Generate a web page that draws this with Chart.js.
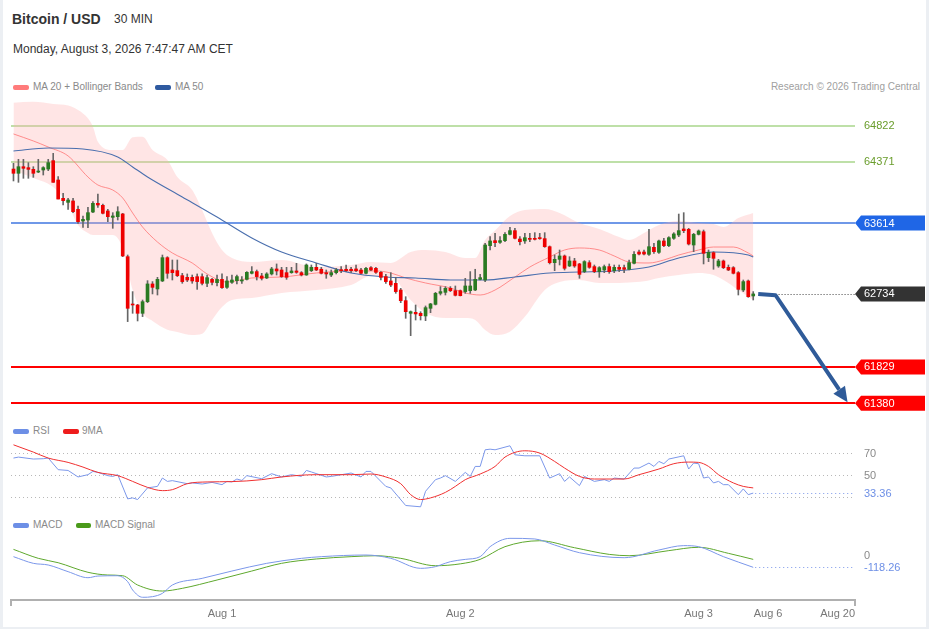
<!DOCTYPE html>
<html>
<head>
<meta charset="utf-8">
<script src="https://cdn.jsdelivr.net/npm/chart.js@4.4.1/dist/chart.umd.min.js"></script>
<style>
html,body{margin:0;padding:0;}
body{width:929px;height:629px;background:#eceff3;position:relative;overflow:hidden;font-family:"Liberation Sans",Arial,sans-serif;}
#frame{position:absolute;left:3px;top:0;width:923px;height:627px;background:#fff;}
.t{position:absolute;white-space:nowrap;color:#333;line-height:normal;}
.lg{position:absolute;white-space:nowrap;color:#8a8a8a;font-size:10px;line-height:normal;}
.sw{position:absolute;height:5px;border-radius:2px;}
.cv{position:absolute;left:0;width:929px;}
</style>
</head>
<body>
<div id="frame"></div>
<div class="t" style="left:12px;top:11px;font-size:14px;font-weight:bold;">Bitcoin / USD</div>
<div class="t" style="left:114px;top:12px;font-size:12px;">30 MIN</div>
<div class="t" style="left:13px;top:42px;font-size:12px;">Monday, August 3, 2026 7:47:47 AM CET</div>

<div class="sw" style="left:13px;top:85px;width:16px;background:#ff7b7b;"></div>
<div class="lg" style="left:33px;top:81px;">MA 20 + Bollinger Bands</div>
<div class="sw" style="left:155px;top:85px;width:16px;background:#2f5aa0;"></div>
<div class="lg" style="left:175px;top:81px;">MA 50</div>
<div class="lg" style="right:9px;top:81px;color:#a0a0a0;">Research © 2026 Trading Central</div>

<div class="sw" style="left:13px;top:429px;width:16px;background:#6d8fe6;"></div>
<div class="lg" style="left:33px;top:425px;">RSI</div>
<div class="sw" style="left:63px;top:429px;width:16px;background:#ee1c1c;"></div>
<div class="lg" style="left:82px;top:425px;">9MA</div>

<div class="sw" style="left:13px;top:523px;width:16px;background:#6d8fe6;"></div>
<div class="lg" style="left:33px;top:519px;">MACD</div>
<div class="sw" style="left:76px;top:523px;width:15px;background:#4a9a1a;"></div>
<div class="lg" style="left:95px;top:519px;">MACD Signal</div>

<div class="cv" style="top:95px;height:325px;"><canvas id="cMain"></canvas></div>
<div class="cv" style="top:437px;height:76px;"><canvas id="cRsi"></canvas></div>
<div class="cv" style="top:530px;height:99px;"><canvas id="cMacd"></canvas></div>

<script>
// ---------------- DATA ----------------
const xTickPos = [42, 90, 138, 152, 166];
const xTickLabels = ['Aug 1', 'Aug 2', 'Aug 3', 'Aug 6', 'Aug 20'];
const futureSlots = 20;

const opens = [64283,64230,64312,64300,64279,64246,64271,64283,64387,64147,
63920,63870,63887,63783,63639,63651,63750,63858,63833,63763,
63684,63692,63726,63196,62605,62597,62494,62638,62858,62796,
62895,63184,63031,63023,62961,62940,62940,62948,62948,62866,
62915,62874,62915,62816,62878,62899,62895,62915,62990,63011,
62957,62932,62982,63044,63031,62998,62998,63019,62998,62969,
63023,63064,63040,62998,62969,62998,63031,63040,63040,63044,
63031,62990,63060,63052,63002,62949,62895,62866,62783,62651,
62494,62506,62494,62461,62556,62605,62742,62754,62804,62775,
62775,62763,62775,62783,62915,62907,63333,63395,63374,63395,
63473,63519,63415,63391,63424,63424,63432,63420,63320,63122,
63163,63205,63081,63143,63106,63011,63122,63073,63011,63031,
63073,63023,63064,63060,63040,63114,63254,63254,63225,63312,
63250,63391,63333,63424,63465,63540,63535,63341,63473,63506,
63184,63246,63081,63143,63064,63060,62998,62783,62895,62709];

const highs = [64354,64403,64403,64362,64312,64403,64312,64403,64478,64188,
63982,63920,63920,63825,63701,63808,63878,63973,63849,63783,
63742,63816,63734,63217,62763,62605,62659,62899,62887,62940,
63217,63196,63155,63155,62990,62982,62969,62982,62982,62969,
62928,62969,62982,62949,62969,62969,62949,63011,63073,63031,
62990,62998,63064,63106,63064,63064,63064,63114,63011,63106,
63093,63114,63064,63031,63031,63052,63073,63093,63064,63093,
63052,63064,63073,63064,63011,62978,62998,62940,62804,62700,
62523,62597,62514,62585,62618,62754,62825,62825,62825,62833,
62783,62928,63011,63040,62978,63362,63444,63486,63444,63494,
63560,63548,63444,63486,63486,63494,63486,63494,63329,63217,
63279,63217,63196,63176,63114,63147,63147,63093,63073,63093,
63106,63093,63093,63093,63155,63258,63279,63279,63535,63362,
63403,63424,63444,63494,63725,63742,63548,63486,63527,63527,
63279,63258,63163,63155,63093,63073,63011,62907,62907,62763];

const lows = [64135,64118,64168,64168,64180,64238,64209,64263,64118,63911,
63837,63783,63742,63610,63560,63556,63742,63808,63725,63630,
63548,63651,63196,62391,62494,62399,62453,62626,62734,62721,
62887,62928,62907,62949,62866,62887,62866,62791,62845,62825,
62845,62833,62804,62804,62866,62858,62866,62907,62982,62907,
62907,62924,62969,62969,62940,62915,62990,62990,62957,62965,
63011,63023,62982,62928,62949,62982,62998,63011,62998,63011,
62982,62982,63023,62990,62907,62866,62825,62742,62626,62432,
62217,62411,62411,62403,62502,62597,62721,62721,62763,62709,
62709,62742,62742,62775,62907,62887,63279,63320,63362,63382,
63465,63415,63341,63362,63382,63403,63411,63312,63106,63023,
63093,63031,63073,63064,62928,62998,63052,62998,62940,62998,
62990,62998,63011,62998,63031,63106,63217,63217,63213,63238,
63238,63320,63320,63411,63444,63494,63341,63258,63465,63106,
63135,63040,63064,63048,63023,62982,62721,62763,62692,62659];

const closes = [64230,64312,64292,64279,64230,64258,64300,64362,64118,63911,
63891,63899,63754,63630,63659,63742,63858,63837,63734,63692,
63701,63754,63205,62556,62597,62494,62638,62858,62816,62915,
63184,62990,62998,62961,62887,62907,62895,62887,62866,62936,
62878,62915,62812,62895,62907,62949,62907,63002,63011,62949,
62928,62982,63044,63019,62949,62940,63019,63002,62969,63093,
63064,63031,62990,62982,62998,63031,63023,63023,63023,63023,
62990,63052,63031,63002,62940,62887,62845,62763,62651,62514,
62514,62486,62465,62564,62610,62742,62763,62804,62775,62717,
62713,62833,62833,62915,62936,63341,63391,63370,63395,63473,
63519,63424,63382,63432,63411,63411,63420,63320,63122,63163,
63205,63052,63143,63081,62977,63135,63064,63011,63060,63073,
63011,63064,63040,63040,63122,63225,63229,63229,63320,63258,
63391,63333,63432,63478,63519,63519,63353,63473,63515,63238,
63250,63176,63143,63060,63031,62990,62791,62887,62700,62734];

const ma20X = [0,4,7,11,15,17,20,22,24,26,29,32,36,39,43,48,54,61,68,73,76,79,83,88,91,94,97,101,104,108,111,114,118,121,124,128,131,134,138,141,145,148,149];
const ma20Y = [64718,64631,64556,64445,64184,64085,64023,63924,63738,63564,63378,63242,63118,62982,62882,62932,62944,62994,63019,63019,62994,62932,62870,62808,62746,62721,62783,62944,63068,63192,63279,63304,63279,63205,63130,63118,63155,63217,63279,63316,63316,63242,63205];

const ma50X = [0,7,14,21,24,27,34,41,48,54,61,68,75,81,88,95,101,108,114,121,128,134,141,148,149];
const ma50Y = [64507,64544,64532,64433,64309,64185,63937,63688,63428,63254,63118,62994,62944,62932,62907,62907,62944,62994,63006,63019,63068,63180,63254,63217,63192];

const bandX = [0,4,8,11,13,15,16,17,20,22,24,26,28,31,33,36,38,40,42,44,48,54,61,68,72,76,80,83,87,91,93,95,97,100,103,107,110,114,118,122,124,127,130,134,138,141,143,146,149];
const bandUpper = [65106,65118,65090,65070,65015,64912,64808,64622,64519,64519,64677,64684,64519,64395,64184,64023,63775,63490,63279,63180,63130,63155,63068,63093,63130,63118,63254,63279,63254,63180,63180,63403,63520,63700,63775,63788,63738,63614,63540,63440,63403,63490,63589,63639,63614,63600,63564,63676,63738];
const bandLower = [64271,64172,64060,63837,63589,63490,63465,63465,63465,63300,62783,62498,62400,62290,62262,62225,62240,62411,62572,62659,62684,62746,62783,62845,62957,62950,62659,62498,62436,62436,62411,62287,62225,62266,62450,62783,62882,62907,62870,62870,62876,62890,62932,62969,62994,62969,62907,62783,62659];

const levels = [64822, 64371, 63614, 61829, 61380];
const lastPrice = 62734;
const arrowX = [150, 153.5, 168];
const arrowY = [62734, 62718, 61392];

const rsiX = [0,1,4,6,7,9,11,13,15,16,17,19,20,21,23,24,25,27,29,30,31,32,35,36,38,40,42,43,44,45,46,47,50,52,54,56,58,59,60,63,64,68,70,71,72,75,76,79,82,83,85,86,87,89,90,91,92,93,94,95,96,97,100,101,103,106,108,110,111,112,114,115,117,119,120,121,123,125,126,128,129,130,131,132,135,136,137,138,139,140,141,142,143,144,146,147,148,149];
const rsiY = [65.6,66.5,64.7,65,65.6,54.9,54.2,48.2,50.3,53.3,52.4,49.4,48.7,50.3,28,28.9,27.4,38.1,39.5,47.2,44.1,44.8,42,42.7,41.7,43.2,41.1,44.1,43.6,46.3,45,49.4,46.6,51.2,48.2,50.3,48.7,54.2,52.8,48.2,48.7,51.8,48.2,53.3,53.3,39.5,38.1,21.9,20.7,35,45.7,47.2,49.4,44.1,48.2,52.4,48.7,57.9,57.9,73.2,73.8,73.2,76.9,68.6,67.7,67.7,47.2,51.2,44.1,48.2,40.2,48.7,44.1,45.7,44.1,47.2,46.3,56.4,56.4,61,57.9,62.5,60.4,64.7,67.7,55.5,61,60.4,47.2,48.2,42.7,44.1,41.1,41.1,31.9,37.2,31.9,33.36];
const rsiMaX = [0,4,7,11,14,17,21,24,27,30,32,35,39,44,50,54,61,68,72,75,78,80,82,84,87,89,91,94,97,99,103,106,109,111,114,117,123,126,130,133,136,138,140,142,145,147,149];
const rsiMaY = [77.8,71.1,65.6,61.6,57.3,52.4,49.4,44.1,38.6,35.6,36.5,42,43.6,43.9,45.7,48.2,50.3,50.3,50.9,48.2,42,31.9,27.4,28.9,34,39.5,45.7,50.9,57.9,66.5,72.3,70.2,62.5,56.4,48.7,46.3,46.3,50.3,55.5,60.4,61.9,61.6,57.9,50.3,42.7,39.5,38.1];
const rsiLevels = [70, 50, 30];
const rsiLabelLevels = [70, 50];

const macdX = [0,4,7,11,15,17,21,23,24,26,28,30,32,38,44,51,58,62,71,76,82,85,86,88,91,94,96,100,105,109,114,123,130,135,138,143,149];
const macdY = [-16,-80,-96,-160,-218,-202,-199,-256,-336,-406,-400,-368,-288,-224,-154,-80,-32,-16,0,-32,-128,-112,-96,-64,-42,-16,80,160,154,96,22,-26,48,90,80,-16,-118.26];
const signalX = [0,5,9,15,19,22,25,30,34,41,48,54,61,68,73,78,85,90,94,99,106,113,120,124,132,138,144,149];
const signalY = [54,-32,-74,-166,-192,-199,-288,-346,-320,-240,-154,-80,-38,-16,-7,-32,-103,-85,-42,80,137,70,6,-7,42,74,16,-42];
const macdZero = 0;

// ---------------- CHARTS ----------------
const FONT = '"Liberation Sans", Arial, sans-serif';
Chart.defaults.font.family = FONT;
const xMin = -0.5, xMax = closes.length + futureSlots - 0.5;

function pts(xs, ys) { return xs.map((x, k) => ({x: x, y: ys[k]})); }

function baseOptions(yMin, yMax) {
  return {
    responsive: true, maintainAspectRatio: false, animation: false, events: [],
    layout: {padding: {left: 11, right: 74, top: 0, bottom: 0}},
    plugins: {legend: {display: false}, tooltip: {enabled: false}},
    elements: {point: {radius: 0}},
    scales: {
      x: {type: 'linear', min: xMin, max: xMax, display: false, offset: false},
      y: {type: 'linear', min: yMin, max: yMax, display: false}
    }
  };
}

function hline(ctx, a, py, color, width, dash) {
  ctx.save();
  ctx.strokeStyle = color; ctx.lineWidth = width;
  if (dash) ctx.setLineDash(dash);
  const yy = width % 2 === 1 ? Math.round(py) + 0.5 : Math.round(py);
  ctx.beginPath(); ctx.moveTo(a.left, yy); ctx.lineTo(a.right, yy); ctx.stroke();
  ctx.restore();
}
function rightText(ctx, a, py, text, color) {
  ctx.save();
  ctx.fillStyle = color; ctx.font = '11px ' + FONT;
  ctx.textAlign = 'left'; ctx.textBaseline = 'middle';
  ctx.fillText(text, a.right + 9, py + 0.5);
  ctx.restore();
}
function drawTag(ctx, xTip, yc, color, text) {
  const h = 15, w = 70;
  ctx.save();
  ctx.fillStyle = color;
  ctx.beginPath();
  ctx.moveTo(xTip, yc);
  ctx.lineTo(xTip + 6, yc - h / 2);
  ctx.lineTo(xTip + w, yc - h / 2);
  ctx.lineTo(xTip + w, yc + h / 2);
  ctx.lineTo(xTip + 6, yc + h / 2);
  ctx.closePath(); ctx.fill();
  ctx.fillStyle = '#fff'; ctx.font = '11px ' + FONT;
  ctx.textAlign = 'left'; ctx.textBaseline = 'middle';
  ctx.fillText(text, xTip + 9, yc + 0.5);
  ctx.restore();
}

const levelStyle = [
  {line: 'rgba(140,200,100,0.75)', w: 1.3, text: '#6a9d2c'},
  {line: 'rgba(140,200,100,0.75)', w: 1.3, text: '#6a9d2c'},
  {line: '#3f76e0', w: 1.6, tag: '#1f66e6'},
  {line: '#ff0000', w: 2, tag: '#ff0000'},
  {line: '#ff0000', w: 2, tag: '#ff0000'}
];

const mainOverlay = {
  id: 'mainOverlay',
  beforeDatasetsDraw(chart) {
    const {ctx, chartArea: a, scales: {y}} = chart;
    levels.forEach((v, k) => hline(ctx, a, y.getPixelForValue(v), levelStyle[k].line, levelStyle[k].w));
  },
  afterDraw(chart) {
    const {ctx, chartArea: a, scales: {x, y}} = chart;
    levels.forEach((v, k) => {
      const py = y.getPixelForValue(v);
      if (levelStyle[k].tag) drawTag(ctx, a.right, py, levelStyle[k].tag, String(v));
      else rightText(ctx, a, py, String(v), levelStyle[k].text);
    });
    // last price dotted line + tag
    const pLast = y.getPixelForValue(lastPrice);
    ctx.save();
    ctx.strokeStyle = '#444'; ctx.lineWidth = 1; ctx.setLineDash([1, 2]);
    ctx.beginPath();
    ctx.moveTo(x.getPixelForValue(arrowX[1]), Math.round(pLast) + 0.5);
    ctx.lineTo(a.right, Math.round(pLast) + 0.5);
    ctx.stroke(); ctx.restore();
    drawTag(ctx, a.right, pLast, '#333333', String(lastPrice));
    // arrow
    const px = arrowX.map(v => x.getPixelForValue(v));
    const py = arrowY.map(v => y.getPixelForValue(v));
    const n = px.length;
    const dx = px[n - 1] - px[n - 2], dy = py[n - 1] - py[n - 2];
    const L = Math.hypot(dx, dy), ux = dx / L, uy = dy / L;
    const head = 15, hw = 7;
    const bx = px[n - 1] - ux * head, by = py[n - 1] - uy * head;
    ctx.save();
    ctx.strokeStyle = '#2f5b99'; ctx.fillStyle = '#2f5b99';
    ctx.lineWidth = 4; ctx.lineJoin = 'round';
    ctx.beginPath(); ctx.moveTo(px[0], py[0]);
    for (let k = 1; k < n - 1; k++) ctx.lineTo(px[k], py[k]);
    ctx.lineTo(bx, by); ctx.stroke();
    ctx.beginPath();
    ctx.moveTo(px[n - 1], py[n - 1]);
    ctx.lineTo(bx - uy * hw, by + ux * hw);
    ctx.lineTo(bx + uy * hw, by - ux * hw);
    ctx.closePath(); ctx.fill();
    ctx.restore();
  }
};

const idx = closes.map((_, i) => i);
const bodyData = idx.map(i => ({x: i, y: [Math.min(opens[i], closes[i]), Math.max(opens[i], closes[i])]}));
const wickData = idx.map(i => ({x: i, y: [lows[i], highs[i]]}));
const bodyColors = idx.map(i => closes[i] >= opens[i] ? '#2a7a22' : '#ee0000');

new Chart(document.getElementById('cMain'), {
  type: 'line',
  data: {
    datasets: [
      {type: 'bar', data: bodyData, backgroundColor: bodyColors, barThickness: 3, minBarLength: 1, grouped: false, order: 0},
      {type: 'bar', data: wickData, backgroundColor: '#666666', barThickness: 1, grouped: false, order: 1},
      {data: pts(ma50X, ma50Y), borderColor: '#4a6fae', borderWidth: 1.1, cubicInterpolationMode: 'monotone', fill: false, order: 2},
      {data: pts(ma20X, ma20Y), borderColor: 'rgba(255,110,110,0.75)', borderWidth: 1, cubicInterpolationMode: 'monotone', fill: false, order: 3},
      {data: pts(bandX, bandUpper), borderWidth: 0, borderColor: 'rgba(0,0,0,0)', backgroundColor: 'rgba(255,170,170,0.3)', cubicInterpolationMode: 'monotone', fill: '+1', order: 4},
      {data: pts(bandX, bandLower), borderWidth: 0, borderColor: 'rgba(0,0,0,0)', cubicInterpolationMode: 'monotone', fill: false, order: 5}
    ]
  },
  options: baseOptions(61171, 65201),
  plugins: [mainOverlay]
});

const rsiOverlay = {
  id: 'rsiOverlay',
  beforeDatasetsDraw(chart) {
    const {ctx, chartArea: a, scales: {y}} = chart;
    rsiLevels.forEach(v => hline(ctx, a, y.getPixelForValue(v), '#b8b8b8', 1, [1, 3]));
  },
  afterDraw(chart) {
    const {ctx, chartArea: a, scales: {x, y}} = chart;
    rsiLabelLevels.forEach(v => rightText(ctx, a, y.getPixelForValue(v), String(v), '#8a8a8a'));
    const lastV = rsiY[rsiY.length - 1];
    const py = y.getPixelForValue(lastV);
    ctx.save();
    ctx.strokeStyle = '#7b97ea'; ctx.lineWidth = 1; ctx.setLineDash([1, 3]);
    ctx.beginPath();
    ctx.moveTo(x.getPixelForValue(rsiX[rsiX.length - 1]) + 2, Math.round(py) + 0.5);
    ctx.lineTo(a.right, Math.round(py) + 0.5); ctx.stroke();
    ctx.restore();
    rightText(ctx, a, py, lastV.toFixed(2), '#6d8fe6');
  }
};

new Chart(document.getElementById('cRsi'), {
  type: 'line',
  data: {
    datasets: [
      {data: pts(rsiMaX, rsiMaY), borderColor: '#f03030', borderWidth: 1, cubicInterpolationMode: 'monotone', fill: false},
      {data: pts(rsiX, rsiY), borderColor: '#7b97ea', borderWidth: 1, tension: 0, fill: false}
    ]
  },
  options: baseOptions(15, 85),
  plugins: [rsiOverlay]
});

const macdOverlay = {
  id: 'macdOverlay',
  afterDraw(chart) {
    const {ctx, chartArea: a, scales: {x, y}} = chart;
    rightText(ctx, a, y.getPixelForValue(macdZero), String(macdZero), '#8a8a8a');
    const lastV = macdY[macdY.length - 1];
    const py = y.getPixelForValue(lastV);
    ctx.save();
    ctx.strokeStyle = '#7b97ea'; ctx.lineWidth = 1; ctx.setLineDash([1, 3]);
    ctx.beginPath();
    ctx.moveTo(x.getPixelForValue(macdX[macdX.length - 1]) + 2, Math.round(py) + 0.5);
    ctx.lineTo(a.right, Math.round(py) + 0.5); ctx.stroke();
    ctx.restore();
    rightText(ctx, a, py, lastV.toFixed(2), '#6d8fe6');
    // axis end ticks
    ctx.save();
    ctx.strokeStyle = '#b0b0b0'; ctx.lineWidth = 2;
    ctx.beginPath();
    ctx.moveTo(a.left, a.bottom); ctx.lineTo(a.left, a.bottom + 6);
    ctx.moveTo(a.right, a.bottom); ctx.lineTo(a.right, a.bottom + 6);
    ctx.stroke(); ctx.restore();
  }
};

const macdOpts = baseOptions(-432, 240);
macdOpts.scales.x = {
  type: 'linear', min: xMin, max: xMax, display: true, position: 'bottom', offset: false,
  grid: {display: false, drawTicks: false},
  border: {display: true, color: '#b0b0b0', width: 2},
  ticks: {
    autoSkip: false, maxRotation: 0, padding: 7, color: '#777',
    font: {size: 11, family: FONT},
    callback: (v) => { const k = xTickPos.indexOf(v); return k >= 0 ? xTickLabels[k] : ''; }
  },
  afterBuildTicks: (s) => { s.ticks = xTickPos.map(v => ({value: v})); },
  afterFit: (s) => { s.height = 29; }
};

new Chart(document.getElementById('cMacd'), {
  type: 'line',
  data: {
    datasets: [
      {data: pts(macdX, macdY), borderColor: '#7b97ea', borderWidth: 1, cubicInterpolationMode: 'monotone', fill: false},
      {data: pts(signalX, signalY), borderColor: '#5ea82d', borderWidth: 1, cubicInterpolationMode: 'monotone', fill: false}
    ]
  },
  options: macdOpts,
  plugins: [macdOverlay]
});
</script>
</body>
</html>
